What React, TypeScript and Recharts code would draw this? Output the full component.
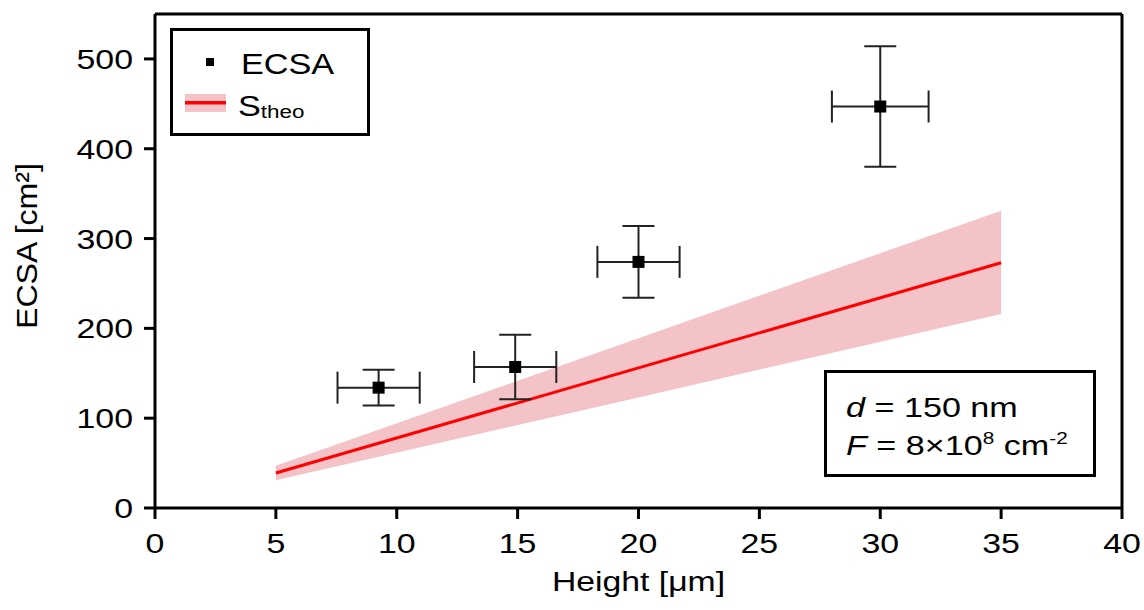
import React from 'react';
import { ComposedChart, XAxis, YAxis, Scatter, ErrorBar, Line, Area, ReferenceLine } from 'recharts';

const heights = [9.25, 14.9, 20.0, 30.0];
const ecsa = [134, 157, 274, 447];
const heightErr = [1.7, 1.7, 1.7, 2.0];
const ecsaErr = [20, 36, 40, 67];

const theoHeights = [5, 20, 35];
const theoValues = [39, 156, 273];
const theoLow = [31, 123, 216];
const theoHigh = [47, 189, 331];

const xTicks = [0, 5, 10, 15, 20, 25, 30, 35, 40];
const yTicks = [0, 100, 200, 300, 400, 500];

const points = heights.map((x, i) => ({ x, y: ecsa[i], ex: heightErr[i], ey: ecsaErr[i] }));
const theo = theoHeights.map((x, i) => ({ x, s: theoValues[i], lo: theoLow[i], hi: theoHigh[i] }));

const FONT = '"Liberation Sans", Arial, sans-serif';
const SX = 1.21;
const BAND = '#f3c3c8';

const Square = (props: any) => {
  const { cx, cy } = props;
  return <rect x={cx - 6} y={cy - 6} width={12} height={12} fill="#000" />;
};

const XTick = (props: any) => {
  const { x, y, payload } = props;
  return (
    <g transform={`translate(${x},${y}) scale(${SX},1)`}>
      <text x={0} y={20} textAnchor="middle" fontSize={28} fill="#000" fontFamily={FONT}>
        {payload.value}
      </text>
    </g>
  );
};

const YTick = (props: any) => {
  const { x, y, payload } = props;
  return (
    <g transform={`translate(${x},${y}) scale(${SX},1)`}>
      <text x={0} y={10} textAnchor="end" fontSize={28} fill="#000" fontFamily={FONT}>
        {payload.value}
      </text>
    </g>
  );
};

export default function App() {
  return (
    <div style={{ position: 'absolute', left: 0, top: 0, width: 1144, height: 610, background: '#fff', fontFamily: FONT }}>
      <ComposedChart width={1144} height={610} margin={{ top: 14, right: 22, bottom: 0, left: 0 }}>
        <XAxis
          dataKey="x"
          type="number"
          domain={[0, 40]}
          ticks={xTicks}
          height={102}
          axisLine={{ stroke: '#000', strokeWidth: 3 }}
          tickLine={{ stroke: '#000', strokeWidth: 3 }}
          tickSize={11}
          tickMargin={14}
          tick={XTick}
          label={(p: any) => {
            const vb = p.viewBox;
            const cx = vb.x + vb.width / 2;
            return (
              <g transform={`translate(${cx},591) scale(1.25,1)`}>
                <text x={0} y={0} textAnchor="middle" fontSize={27} fill="#000" fontFamily={FONT}>
                  Height [μm]
                </text>
              </g>
            );
          }}
        />
        <YAxis
          type="number"
          domain={[0, 550]}
          ticks={yTicks}
          width={155}
          axisLine={{ stroke: '#000', strokeWidth: 3 }}
          tickLine={{ stroke: '#000', strokeWidth: 3 }}
          tickSize={11}
          tickMargin={11}
          tick={YTick}
          label={() => {
            const cx = 37;
            const cy = 246;
            return (
              <text
                x={cx}
                y={cy}
                transform={`rotate(-90 ${cx} ${cy})`}
                textAnchor="middle"
                fontSize={30}
                textLength={166}
                lengthAdjust="spacingAndGlyphs"
                fill="#000"
                fontFamily={FONT}
              >
                ECSA [cm²]
              </text>
            );
          }}
        />
        <Area
          data={theo}
          dataKey={(d: any) => [d.lo, d.hi]}
          type="linear"
          fill={BAND}
          fillOpacity={1}
          stroke="none"
          isAnimationActive={false}
        />
        <Line data={theo} dataKey="s" type="linear" stroke="#ff0000" strokeWidth={3} dot={false} isAnimationActive={false} />
        <ReferenceLine y={550} stroke="#000" strokeWidth={3} />
        <ReferenceLine x={40} stroke="#000" strokeWidth={3} />
        <Scatter data={points} dataKey="y" shape={Square} isAnimationActive={false}>
          <ErrorBar dataKey="ey" direction="y" width={16} stroke="#222" strokeWidth={2} isAnimationActive={false} />
          <ErrorBar dataKey="ex" direction="x" width={16} stroke="#222" strokeWidth={2} isAnimationActive={false} />
        </Scatter>
      </ComposedChart>

      <svg width={1144} height={610} style={{ position: 'absolute', left: 0, top: 0, pointerEvents: 'none' }} fontFamily={FONT}>
        {/* Legend */}
        <rect x={171.5} y={29.5} width={197} height={105} fill="#fff" stroke="#000" strokeWidth={3} />
        <rect x={206} y={58} width={8} height={8} fill="#000" />
        <g transform={`translate(241,74) scale(1.18,1)`}>
          <text x={0} y={0} fontSize={29} fill="#000">ECSA</text>
        </g>
        <rect x={185} y={94} width={41} height={18} fill={BAND} />
        <rect x={185} y={101} width={41} height={3.5} fill="#ff0000" />
        <g transform={`translate(238,116) scale(1.18,1)`}>
          <text x={0} y={0} fontSize={29} fill="#000">
            S<tspan fontSize={19} dy={2}>theo</tspan>
          </text>
        </g>

        {/* Annotation */}
        <rect x={825.5} y={371.5} width={269} height={104} fill="#fff" stroke="#000" strokeWidth={3} />
        <g transform={`translate(846,417) scale(1.22,1)`}>
          <text x={0} y={0} fontSize={28} fill="#000">
            <tspan fontStyle="italic">d</tspan> = 150 nm
          </text>
        </g>
        <g transform={`translate(846,455) scale(1.22,1)`}>
          <text x={0} y={0} fontSize={28} fill="#000">
            <tspan fontStyle="italic">F</tspan> = 8×10<tspan fontSize={17} dy={-11}>8</tspan>
            <tspan dy={11}> cm</tspan>
            <tspan fontSize={17} dy={-11}>-2</tspan>
          </text>
        </g>
      </svg>
    </div>
  );
}
